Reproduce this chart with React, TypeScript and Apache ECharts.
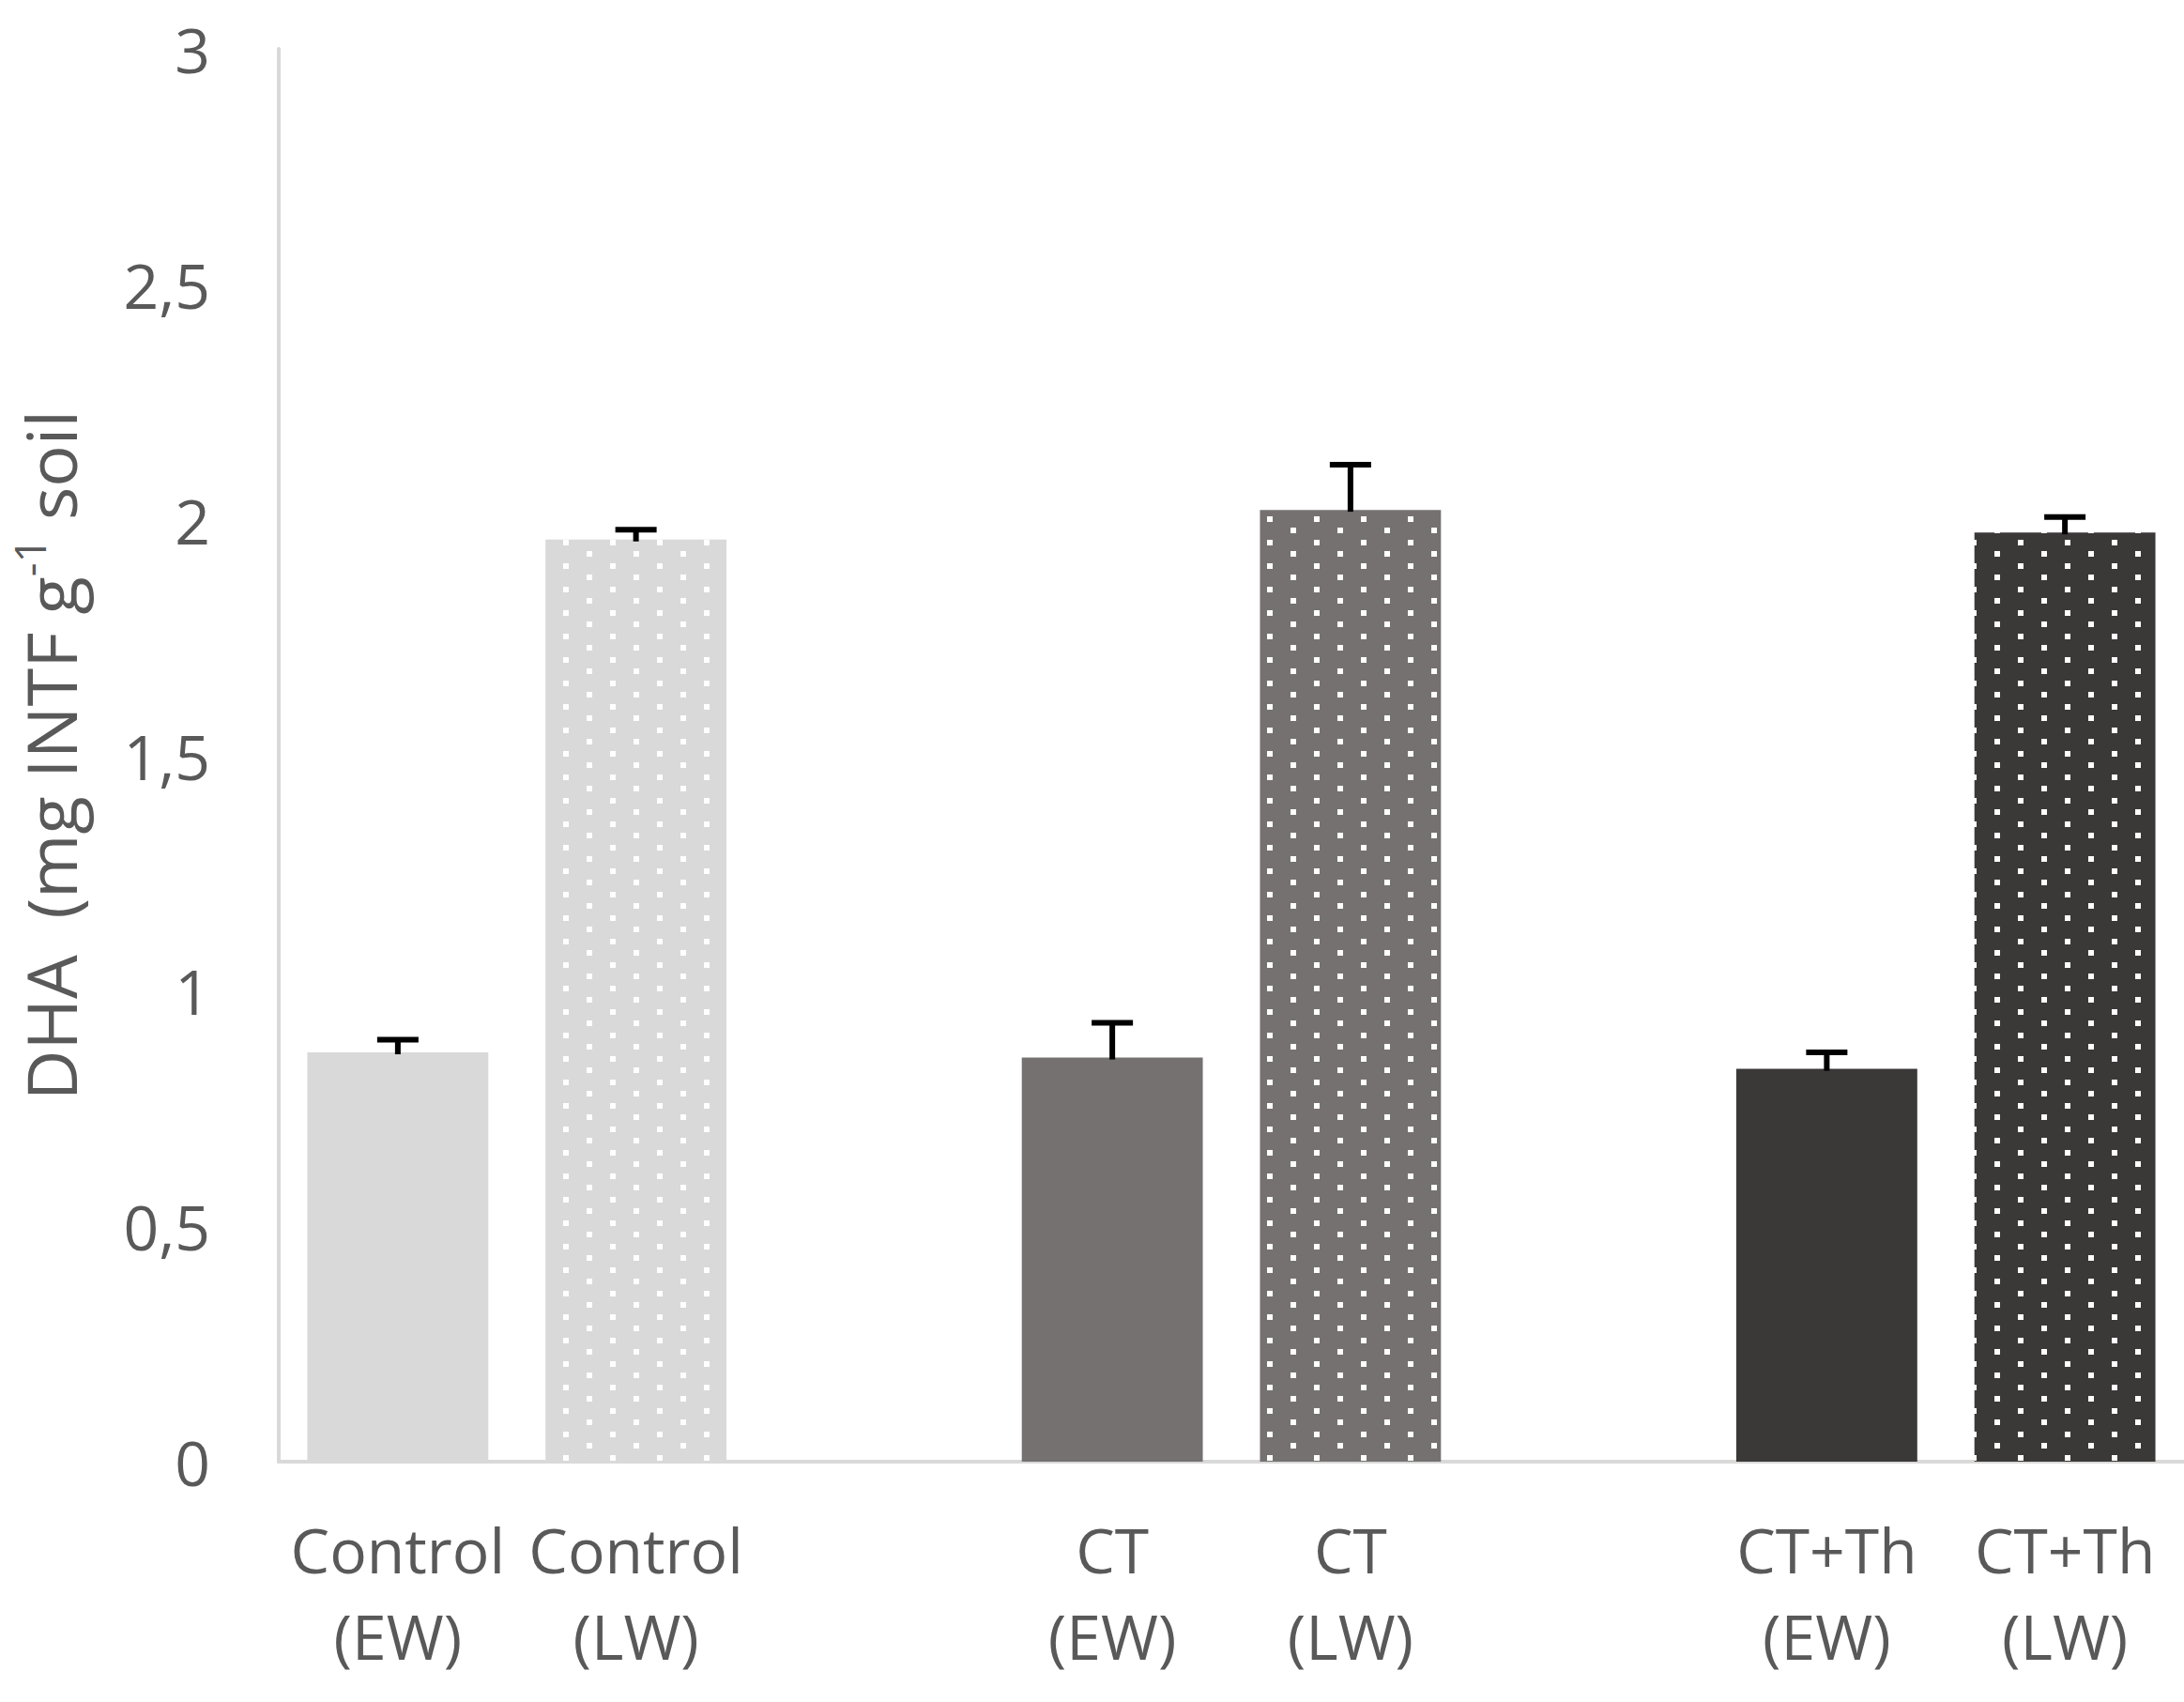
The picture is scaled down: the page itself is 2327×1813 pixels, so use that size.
import React, { useEffect, useRef } from "react";
import * as echarts from "echarts";

const categories = [
  "Control\n(EW)",
  "Control\n(LW)",
  " ",
  "CT\n(EW)",
  "CT\n(LW)",
  "  ",
  "CT+Th\n(EW)",
  "CT+Th\n(LW)",
];
const values: (number | null)[] = [0.869, 1.958, null, 0.858, 2.021, null, 0.834, 1.973];
const errors: (number | null)[] = [0.027, 0.021, null, 0.074, 0.096, null, 0.035, 0.033];
const barColors = ["#d9d9d9", "#d9d9d9", "", "#767171", "#767171", "", "#3b3838", "#3b3838"];
const dotted = [false, true, false, false, true, false, false, true];
const yTicks = { min: 0, max: 3, interval: 0.5 };

function makePattern(bg: string) {
  const c = document.createElement("canvas");
  c.width = 50;
  c.height = 25;
  const ctx = c.getContext("2d")!;
  ctx.fillStyle = bg;
  ctx.fillRect(0, 0, 50, 25);
  ctx.fillStyle = "#ffffff";
  ctx.fillRect(0, 0, 6, 6);
  ctx.fillRect(25, 12, 6, 6);
  return { image: c, repeat: "repeat" } as any;
}

export default function App() {
  const ref = useRef<HTMLDivElement>(null);
  useEffect(() => {
    document.body.style.margin = "0";
    const chart = echarts.init(ref.current!, undefined, { renderer: "svg" });
    const font = "'Open Sans', sans-serif";
    const textColor = "#595959";
    const barData = values.map((v, i) =>
      v == null
        ? "-"
        : {
            value: v,
            itemStyle: { color: dotted[i] ? makePattern(barColors[i]) : barColors[i] },
          }
    );
    const errData = values
      .map((v, i) => (v == null ? null : [i, v, errors[i] as number]))
      .filter((d) => d != null);
    chart.setOption({
      animation: false,
      backgroundColor: "#ffffff",
      grid: { left: 291, right: 0, top: 52, bottom: 256 },
      xAxis: {
        type: "category",
        data: categories,
        axisLine: { show: true, lineStyle: { color: "#d9d9d9", width: 4 } },
        axisTick: { show: false },
        axisLabel: {
          interval: 0,
          color: textColor,
          fontFamily: font,
          fontSize: 66,
          lineHeight: 92,
          margin: 47,
        },
      },
      yAxis: {
        type: "value",
        min: yTicks.min,
        max: yTicks.max,
        interval: yTicks.interval,
        splitLine: { show: false },
        axisLine: { show: true, lineStyle: { color: "#d9d9d9", width: 4 } },
        axisTick: { show: false },
        axisLabel: {
          color: textColor,
          fontFamily: font,
          fontSize: 66,
          margin: 73,
          padding: [0, 0, 26, 0],
          formatter: (v: number) => String(v).replace(".", ","),
        },
        name: "{a|DHA  (mg INTF g}{sup|-1}{a| soil}",
        nameLocation: "middle",
        nameRotate: 90,
        nameGap: 199,
        nameTextStyle: {
          color: textColor,
          fontFamily: font,
          fontSize: 74,
          rich: {
            a: { color: textColor, fontFamily: font, fontSize: 74, lineHeight: 90 },
            sup: {
              color: textColor,
              fontFamily: font,
              fontSize: 46,
              lineHeight: 56,
              verticalAlign: "top",
            },
          },
        },
      },
      series: [
        {
          type: "bar",
          data: barData,
          barWidth: "76%",
          z: 2,
        },
        {
          type: "custom",
          data: errData,
          z: 5,
          renderItem: (params: any, api: any) => {
            const x = api.value(0);
            const v = api.value(1);
            const e = api.value(2);
            const p0 = api.coord([x, v]);
            const p1 = api.coord([x, v + e]);
            const hw = 22;
            const style = { stroke: "#000000", lineWidth: 6 };
            return {
              type: "group",
              children: [
                { type: "line", shape: { x1: p0[0], y1: p0[1] + 2, x2: p1[0], y2: p1[1] }, style },
                { type: "line", shape: { x1: p1[0] - hw, y1: p1[1], x2: p1[0] + hw, y2: p1[1] }, style },
              ],
            };
          },
        },
      ],
    });
    return () => chart.dispose();
  }, []);
  return <div ref={ref} style={{ width: 2327, height: 1813 }} />;
}
